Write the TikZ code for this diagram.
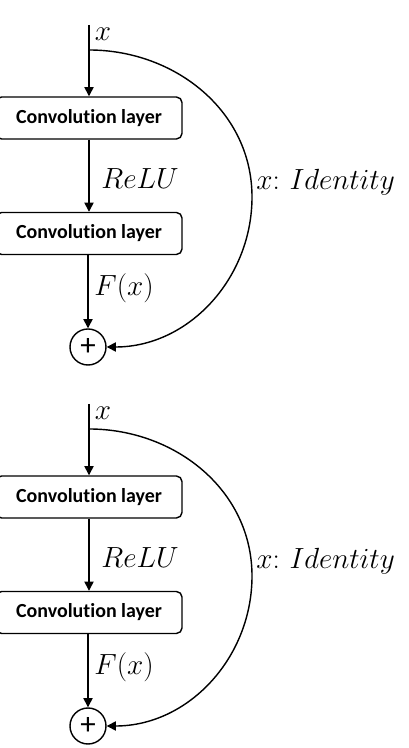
\documentclass[tikz,border=0pt]{standalone}
\usepackage{fontspec}
\newfontfamily\convfont[Ligatures=NoCommon]{Carlito}
\usetikzlibrary{arrows.meta}

\tikzset{
	convbox/.style={draw, line width=1pt, rounded corners=4pt, minimum width=4.65cm, minimum height=1.05cm, font=\convfont\bfseries\fontsize{14.2}{16}\selectfont},
	sumnode/.style={draw, circle, line width=1pt, minimum size=0.9cm, inner sep=0pt, font=\convfont\fontsize{22}{22}\selectfont},
	flow/.style={line width=1pt, -{Triangle[length=6.5pt, width=6.5pt]}},
	mathlbl/.style={inner sep=0pt, font=\fontsize{21}{24}\selectfont}
}

\begin{document}
\begin{tikzpicture}[x=0.025cm, y=0.025cm]
		%%%%% START %%%%%
		\useasboundingbox (0, 0) rectangle (408, 748);
		
		% first block
		\coordinate (ina) at (89, 723);
		\coordinate (splita) at (89, 698);
		\coordinate (fara) at (252, 551);
		\node[convbox] (conv1a) at (89, 630) {Convolution layer};
		\node[convbox] (conv2a) at (89, 514.5) {Convolution layer};
		\node[sumnode] (suma) at (88, 401) {+};
		
		\draw[flow] (ina) -- (conv1a);
		\draw[flow] (conv1a) -- (conv2a);
		\draw[flow] (conv2a.south -| suma) -- (suma);
		\draw[flow] (splita) to[out=0, in=90] (fara) to[out=-90, in=0] (suma.east);
		
		\node[mathlbl] (lblxa) at (103, 714) {$x$};
		\node[mathlbl] (lblrelua) at (140, 569) {$ReLU$};
		\node[mathlbl] (lblfa) at (124, 460) {$F(x)$};
		\node[mathlbl, anchor=west] (lblida) at (256, 566) {$x{:}\,\,Identity$};
		
		% second block
		\coordinate (inb) at (89, 344);
		\coordinate (splitb) at (89, 319);
		\coordinate (farb) at (252, 172);
		\node[convbox] (conv1b) at (89, 251) {Convolution layer};
		\node[convbox] (conv2b) at (89, 135.5) {Convolution layer};
		\node[sumnode] (sumb) at (88, 22) {+};
		
		\draw[flow] (inb) -- (conv1b);
		\draw[flow] (conv1b) -- (conv2b);
		\draw[flow] (conv2b.south -| sumb) -- (sumb);
		\draw[flow] (splitb) to[out=0, in=90] (farb) to[out=-90, in=0] (sumb.east);
		
		\node[mathlbl] (lblxb) at (103, 335) {$x$};
		\node[mathlbl] (lblrelub) at (140, 190) {$ReLU$};
		\node[mathlbl] (lblfb) at (124, 81) {$F(x)$};
		\node[mathlbl, anchor=west] (lblidb) at (256, 187) {$x{:}\,\,Identity$};
		
		%%%%% END %%%%%
	\end{tikzpicture}
\end{document}
